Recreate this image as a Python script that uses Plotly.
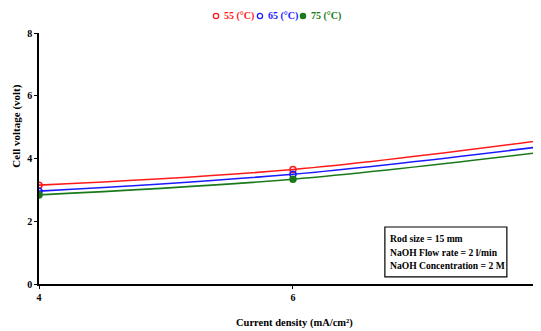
import plotly.graph_objects as go

current_density = [4, 6, 8]
v55 = [3.15, 3.65, 4.60]
v65 = [2.96, 3.50, 4.40]
v75 = [2.84, 3.34, 4.22]

legend_labels = ["55 (°C)", "65 (°C)", "75 (°C)"]
colors = ["#ff1a1a", "#1a1aff", "#1a7a1a"]
symbols = ["circle-open", "circle-open", "circle"]
series_values = [v55, v65, v75]

info_lines = ["Rod size = 15 mm", "NaOH Flow rate = 2 l/min", "NaOH Concentration = 2 M"]

font_family = "Liberation Serif, Times New Roman, serif"

fig = go.Figure()
for name, vals, color, sym in zip(legend_labels, series_values, colors, symbols):
    fig.add_trace(go.Scatter(
        x=current_density, y=vals, mode="lines+markers", name=name,
        line=dict(color=color, width=1.6, shape="spline"),
        marker=dict(symbol=sym, size=6, color=color, line=dict(color=color, width=1.5)),
        showlegend=False,
    ))

# manual legend (symbol + coloured label)
leg_y = 1.068
circle_x = [0.3526, 0.4402, 0.5259]
text_x = [0.3645, 0.4522, 0.5378]
for name, color, sym, cx, tx in zip(legend_labels, colors, symbols, circle_x, text_x):
    fig.add_shape(type="circle", xref="paper", yref="paper",
                  xsizemode="pixel", ysizemode="pixel",
                  xanchor=cx, yanchor=leg_y, x0=-2.6, x1=2.6, y0=-2.6, y1=2.6,
                  line=dict(color=color, width=1.3),
                  fillcolor=color if sym == "circle" else "rgba(0,0,0,0)")
    fig.add_annotation(xref="paper", yref="paper", x=tx, y=leg_y,
                       xanchor="left", yanchor="middle", showarrow=False,
                       text=f"<b>{name}</b>",
                       font=dict(family=font_family, size=10, color=color))

# info box
fig.add_shape(type="rect", xref="paper", yref="paper", x0=0.689, x1=0.932, y0=0.028, y1=0.227,
              line=dict(color="black", width=1.2), fillcolor="white", layer="above")
for txt, ly in zip(info_lines, [0.183, 0.127, 0.072]):
    fig.add_annotation(xref="paper", yref="paper", x=0.695, y=ly, xanchor="left", yanchor="middle",
                       showarrow=False, text=f"<b>{txt}</b>",
                       font=dict(family=font_family, size=9.6, color="black"))

# axis titles
fig.add_annotation(xref="paper", yref="paper", x=-0.0438, y=0.627, textangle=-90,
                   xanchor="center", yanchor="middle", showarrow=False,
                   text="<b>Cell voltage (volt)</b>",
                   font=dict(family=font_family, size=11, color="black"))
fig.add_annotation(xref="paper", yref="paper", x=0.508, y=-0.155,
                   xanchor="center", yanchor="middle", showarrow=False,
                   text="<b>Current density (mA/cm²)</b>",
                   font=dict(family=font_family, size=10.5, color="black"))

fig.update_layout(
    width=533, height=323,
    margin=dict(l=31, r=0, t=25, b=47, autoexpand=False),
    paper_bgcolor="white", plot_bgcolor="white",
    font=dict(family=font_family, size=10, color="black"),
    showlegend=False,
    xaxis=dict(range=[4, 7.953], tickvals=[4, 6], ticktext=["<b>4</b>", "<b>6</b>"],
               showgrid=False, zeroline=False, showline=True, linecolor="black", linewidth=1.5,
               ticks="outside", ticklen=3, tickcolor="black", automargin=False),
    yaxis=dict(range=[0, 8], tickvals=[0, 2, 4, 6, 8],
               ticktext=["<b>0</b>", "<b>2</b>", "<b>4</b>", "<b>6</b>", "<b>8</b>"],
               showgrid=False, zeroline=False, showline=True, linecolor="black", linewidth=1.5,
               ticks="outside", ticklen=3, tickcolor="black", automargin=False),
)

fig.write_html("out.html")
